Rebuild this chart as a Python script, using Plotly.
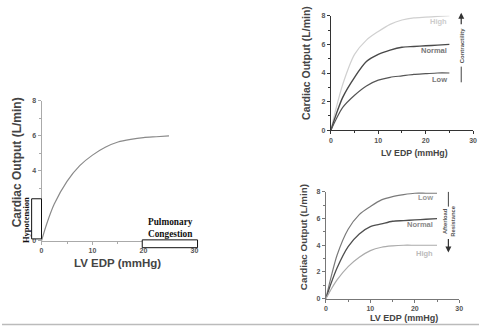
import plotly.graph_objects as go

W, H = 483, 329

# ---- data ----
edp = [0, 1, 2.5, 5, 7.5, 10, 12.5, 15, 17.5, 20, 22.5, 25]
co_left = [0, 0.95, 2.1, 3.4, 4.3, 4.9, 5.35, 5.65, 5.8, 5.9, 5.95, 6.0]

co_contr_high = [0, 1.4, 3.2, 5.3, 6.3, 6.9, 7.4, 7.7, 7.85, 7.9, 7.95, 8.0]
co_contr_normal = [0, 1.0, 2.3, 3.7, 4.8, 5.3, 5.6, 5.8, 5.85, 5.9, 5.95, 6.0]
co_contr_low = [0, 0.7, 1.6, 2.45, 3.1, 3.5, 3.7, 3.8, 3.9, 3.95, 4.0, 4.0]

co_after_low = [0, 1.4, 3.25, 5.2, 6.3, 6.9, 7.4, 7.65, 7.8, 7.9, 7.9, 7.9]
co_after_normal = [0, 1.0, 2.3, 3.9, 4.85, 5.4, 5.6, 5.8, 5.85, 5.9, 5.95, 6.0]
co_after_high = [0, 0.6, 1.4, 2.4, 3.1, 3.6, 3.85, 3.95, 4.0, 4.0, 4.0, 4.0]

y_ticks = [0, 2, 4, 6, 8]
x_ticks = [0, 10, 20, 30]


def px(x):
    return x / W


def py(y):
    return 1 - y / H


fig = go.Figure()


def curve(y, color, width, xa, ya):
    fig.add_trace(go.Scatter(x=edp, y=y, mode="lines",
                             line=dict(color=color, width=width, shape="spline", smoothing=0.8),
                             xaxis=xa, yaxis=ya, showlegend=False, hoverinfo="skip"))


curve(co_left, "#8a8a8a", 1.2, "x", "y")
curve(co_contr_high, "#d0d0d0", 1.2, "x2", "y2")
curve(co_contr_normal, "#4a4a4a", 1.4, "x2", "y2")
curve(co_contr_low, "#555555", 1.2, "x2", "y2")
curve(co_after_low, "#7a7a7a", 1.2, "x3", "y3")
curve(co_after_normal, "#4f4f4f", 1.3, "x3", "y3")
curve(co_after_high, "#ababab", 1.2, "x3", "y3")


def xax(domain, rng, col, lw):
    return dict(domain=domain, range=rng, tickvals=x_ticks, ticks="outside", ticklen=3,
                tickcolor=col, tickwidth=1, showline=True, linecolor=col, linewidth=lw,
                showgrid=False, zeroline=False,
                tickfont=dict(size=7, color="#555", family="Arial", weight="bold"),
                minor=dict(tickvals=[5, 15, 25], ticks="outside", ticklen=2, tickcolor=col),
                fixedrange=True)


def yax(domain, col, lw, anchor):
    return dict(domain=domain, range=[0, 8], tickvals=y_ticks, ticks="outside", ticklen=3,
                tickcolor=col, tickwidth=1, showline=True, linecolor=col, linewidth=lw,
                showgrid=False, zeroline=False, anchor=anchor,
                tickfont=dict(size=7, color="#555", family="Arial", weight="bold"),
                minor=dict(tickvals=[1, 3, 5, 7], ticks="outside", ticklen=2, tickcolor=col),
                fixedrange=True)


fig.update_layout(
    width=W, height=H, margin=dict(l=0, r=0, t=0, b=0),
    paper_bgcolor="white", plot_bgcolor="white",
    xaxis=dict(**xax([px(40), px(198)], [0, 30.6], "#aaaaaa", 1), anchor="y"),
    yaxis=yax([py(242), py(99)], "#aaaaaa", 1, "x"),
    xaxis2=dict(**xax([px(333), px(477)], [0, 30], "#333333", 1.3), anchor="y2"),
    yaxis2=yax([py(129), py(12)], "#333333", 1.3, "x2"),
    xaxis3=dict(**xax([px(328), px(463)], [0, 30], "#777777", 1), anchor="y3"),
    yaxis3=yax([py(301), py(192)], "#777777", 1, "x3"),
)

anns = []


def paper_text(text, x, y, size, angle=0, color="#444", family="Arial", weight="bold", xanchor="center"):
    anns.append(dict(text=text, x=px(x), y=py(y), xref="paper", yref="paper", showarrow=False,
                     textangle=angle, xanchor=xanchor, yanchor="middle",
                     font=dict(size=size, color=color, family=family, weight=weight)))


# axis titles
paper_text("Cardiac Output (L/min)", 15, 162, 12, angle=-90)
paper_text("LV EDP (mmHg)", 117, 265, 11.5)
paper_text("Cardiac Output (L/min)", 308, 60, 10.5, angle=-90)
paper_text("LV EDP (mmHg)", 418, 152, 8.8)
paper_text("Cardiac Output (L/min)", 306, 238, 9.8, angle=-90)
paper_text("LV EDP (mmHg)", 407, 321, 9)

# left chart annotations
paper_text("Hypotension", 25, 221, 8.5, angle=-90, color="#111", family="Times New Roman")
paper_text("Pulmonary<br>Congestion", 171, 229, 9.3, color="#111", family="Times New Roman")


# curve labels (data coords)
def lab(text, x, y, xr, yr, color, size=7.5):
    anns.append(dict(text=text, x=x, y=y, xref=xr, yref=yr, showarrow=False, xanchor="right",
                     yanchor="middle", font=dict(size=size, color=color, family="Arial", weight="bold")))


lab("High", 25, 7.6, "x2", "y2", "#cccccc")
lab("Normal", 25, 5.55, "x2", "y2", "#777")
lab("Low", 25, 3.55, "x2", "y2", "#777")
lab("Low", 24.6, 7.55, "x3", "y3", "#999")
lab("Normal", 24.6, 5.55, "x3", "y3", "#888")
lab("High", 24.6, 3.4, "x3", "y3", "#bbb")

# contractility label and arrow
paper_text("Contractility", 466, 42, 6, angle=-90, color="#555")
anns.append(dict(text="", x=px(465), y=py(9), xref="paper", yref="paper", showarrow=True,
                 axref="pixel", ayref="pixel", ax=0, ay=13, arrowhead=2, arrowsize=1,
                 arrowwidth=1.2, arrowcolor="#333"))
# afterload label and arrow
paper_text("Afterload<br>Resistance", 453, 222, 5.8, angle=-90, color="#555")
anns.append(dict(text="", x=px(452), y=py(254), xref="paper", yref="paper", showarrow=True,
                 axref="pixel", ayref="pixel", ax=0, ay=-15, arrowhead=2, arrowsize=1,
                 arrowwidth=1.2, arrowcolor="#333"))

fig.update_layout(annotations=anns)

shapes = [
    # hypotension box
    dict(type="rect", xref="paper", yref="paper", x0=px(30), x1=px(40), y0=py(240), y1=py(199),
         line=dict(color="#111", width=1), fillcolor="white", layer="above"),
    # pulmonary congestion box
    dict(type="rect", xref="paper", yref="paper", x0=px(142), x1=px(198), y0=py(249), y1=py(241),
         line=dict(color="#111", width=1), fillcolor="white", layer="above"),
    # contractility line
    dict(type="line", xref="paper", yref="paper", x0=px(465), x1=px(465), y0=py(64), y1=py(80),
         line=dict(color="#444", width=1)),
    # afterload line
    dict(type="line", xref="paper", yref="paper", x0=px(452), x1=px(452), y0=py(192), y1=py(207),
         line=dict(color="#444", width=1)),
    # bottom border line
    dict(type="line", xref="paper", yref="paper", x0=0, x1=1, y0=py(327.5), y1=py(327.5),
         line=dict(color="#bbbbbb", width=1.5)),
]
fig.update_layout(shapes=shapes)

fig.write_html("out.html")
